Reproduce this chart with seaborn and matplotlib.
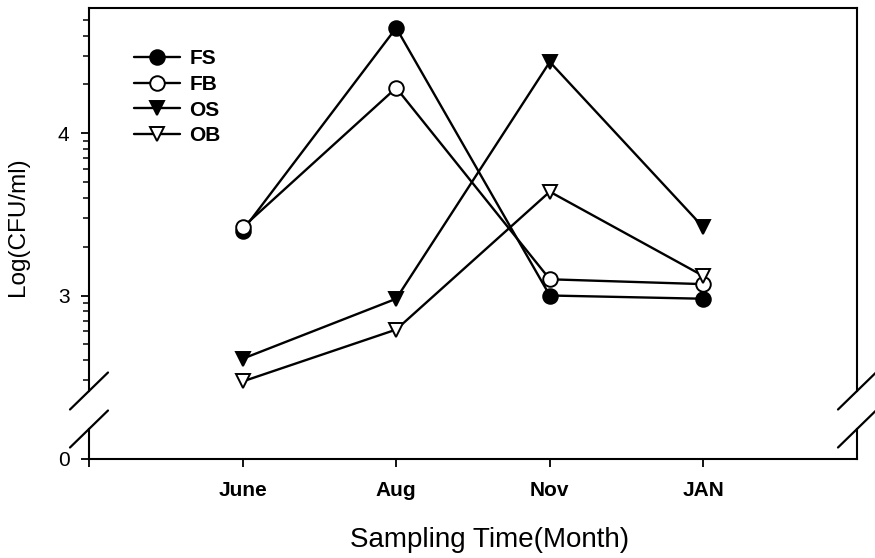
import numpy as np
import pandas as pd
import matplotlib
matplotlib.use("Agg")
import matplotlib.pyplot as plt
from matplotlib.lines import Line2D
from matplotlib.ticker import FixedLocator
import seaborn as sns

# Sampling months and log counts per series
months = ["June", "Aug", "Nov", "JAN"]
fs = [3.40, 4.65, 3.00, 2.98]
fb = [3.42, 4.28, 3.10, 3.07]
os_vals = [2.61, 2.98, 4.44, 3.42]
ob = [2.47, 2.79, 3.64, 3.12]
series_names = ["FS", "FB", "OS", "OB"]
y_ticks_upper = [3, 4]
y_ticks_lower = [0]

sns.set_style("ticks")
plt.rcParams["font.family"] = ["Liberation Sans", "DejaVu Sans"]
plt.rcParams.update({
    "text.color": "black",
    "axes.labelcolor": "black",
    "axes.edgecolor": "black",
    "xtick.color": "black",
    "ytick.color": "black",
})

df = pd.DataFrame({
    "month": np.tile(np.arange(len(months)), len(series_names)),
    "value": fs + fb + os_vals + ob,
    "series": np.repeat(series_names, len(months)),
})

W, H = 875, 558
fig = plt.figure(figsize=(W / 100, H / 100), dpi=100)


def fx(px):
    return px / W


def fy(py):
    return 1 - py / H


left, right = 89, 857
up_top, up_bot = 8, 391
lo_top, lo_bot = 429, 459
px_per_unit = 162.2

ax = fig.add_axes([fx(left), fy(up_bot), (right - left) / W, (up_bot - up_top) / H])
axb = fig.add_axes([fx(left), fy(lo_bot), (right - left) / W, (lo_bot - lo_top) / H])

styles = {
    "FS": dict(marker="o", markerfacecolor="black"),
    "FB": dict(marker="o", markerfacecolor="white"),
    "OS": dict(marker="v", markerfacecolor="black"),
    "OB": dict(marker="v", markerfacecolor="white"),
}

for name in series_names:
    sub = df[df["series"] == name]
    sns.lineplot(data=sub, x="month", y="value", ax=ax, color="black",
                 linewidth=1.7, markersize=10.5, markeredgecolor="black",
                 markeredgewidth=1.4, label=name, **styles[name])

xlim = (-1.0, 4.0)
for a in (ax, axb):
    a.set_xlim(*xlim)
    for s in a.spines.values():
        s.set_linewidth(1.5)
        s.set_color("black")

# upper panel
ymax = 4 + (133.3 - up_top) / px_per_unit
ymin = 4 - (up_bot - 133.3) / px_per_unit
ax.set_ylim(ymin, ymax)
ax.set_yticks(y_ticks_upper)
ax.set_yticklabels([str(t) for t in y_ticks_upper])
minor = [d + np.log10(k) for d in (2, 3, 4) for k in range(2, 10)]
minor = [m for m in minor if ymin < m < ymax]
ax.yaxis.set_minor_locator(FixedLocator(minor))
ax.tick_params(axis="y", which="major", direction="out", length=6, width=1.3,
               labelsize=15, pad=8)
ax.tick_params(axis="y", which="minor", direction="out", length=4, width=1.1)
ax.tick_params(axis="x", bottom=False, labelbottom=False)
ax.spines["bottom"].set_visible(False)
ax.set_xlabel("")
ax.set_ylabel("Log(CFU/ml)", fontsize=17.5)
ax.yaxis.set_label_coords((18 - left) / (right - left), (up_bot - 227) / (up_bot - up_top))
ax.yaxis.label.set(va="center", ha="center")

# lower panel
axb.set_ylim(0, (lo_bot - lo_top) / px_per_unit)
axb.set_yticks(y_ticks_lower)
axb.set_yticklabels([str(t) for t in y_ticks_lower])
axb.set_xticks(range(-1, len(months)))
axb.set_xticklabels([""] + months, fontweight="bold", fontsize=15)
axb.tick_params(axis="y", direction="out", length=6, width=1.3, labelsize=15, pad=8)
axb.tick_params(axis="x", direction="out", length=6, width=1.3, pad=10)
axb.spines["top"].set_visible(False)
axb.set_xlabel("Sampling Time(Month)", fontsize=20)
axb.xaxis.set_label_coords((489.5 - left) / (right - left), (lo_bot - 540) / (lo_bot - lo_top))
axb.xaxis.label.set(va="center")

# axis break marks
for xc in (left, right):
    for yc in (up_bot, lo_top):
        fig.add_artist(Line2D([fx(xc - 19), fx(xc + 19)], [fy(yc + 18.5), fy(yc - 18.5)],
                              color="black", linewidth=1.6))

leg = ax.legend(loc="upper left",
                bbox_to_anchor=((124 - left) / (right - left), (up_bot - 39) / (up_bot - up_top)),
                frameon=False, borderpad=0, handlelength=2.2, handletextpad=0.45,
                labelspacing=0.32, prop={"weight": "bold", "size": 15})

fig.savefig("out.png", dpi=100)
